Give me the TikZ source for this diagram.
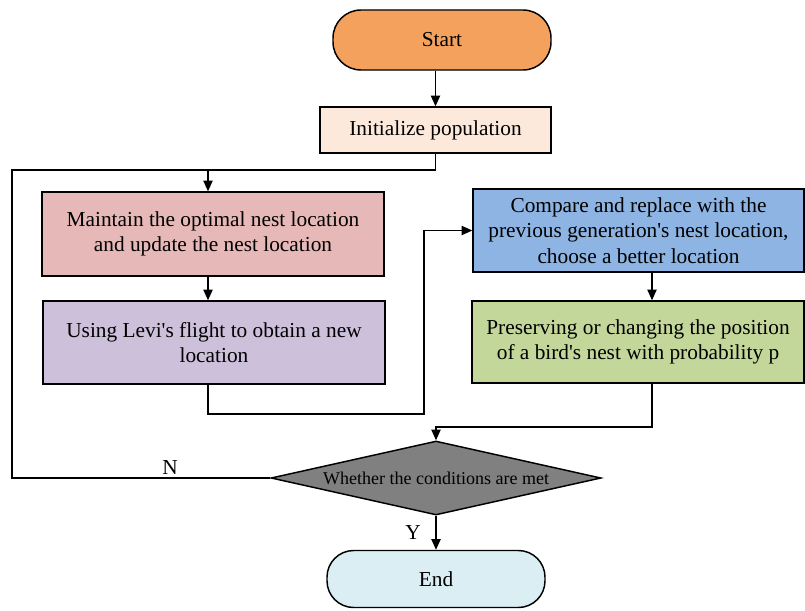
\documentclass[tikz,border=0pt]{standalone}
\usepackage{fontspec}
\setmainfont{Liberation Serif}
\newfontfamily\tnr{Liberation Serif}
\usetikzlibrary{shapes.geometric,arrows.meta}

\definecolor{cStart}{HTML}{F4A15E}
\definecolor{cInit}{HTML}{FCE9DC}
\definecolor{cKeep}{HTML}{E6B8B7}
\definecolor{cLevy}{HTML}{CCC0DA}
\definecolor{cComp}{HTML}{8DB4E2}
\definecolor{cPres}{HTML}{C4D79B}
\definecolor{cDec}{HTML}{808080}
\definecolor{cEnd}{HTML}{DAEEF3}

\newcommand{\aq}{\textquotesingle}

\tikzset{
  box/.style={draw=black, line width=1.1pt, rectangle, align=center,
    font=\tnr\fontsize{16}{19}\selectfont, inner sep=2pt},
  term/.style={box, rounded corners=21pt},
  link/.style={draw=black, line width=0.8pt},
  arr/.style={link, -{Triangle[length=8pt,width=7pt]}},
  lbl/.style={font=\tnr\fontsize{16}{18}\selectfont, inner sep=0pt},
}

\begin{document}
\begin{tikzpicture}[x=0.75pt,y=-0.75pt]
  \useasboundingbox (0,0) rectangle (805,610);

  % process steps
  \node[term, fill=cStart, minimum width=218*0.75pt, minimum height=60*0.75pt] (start) at (442,40) {Start};
  \node[box, fill=cInit, minimum width=231*0.75pt, minimum height=46*0.75pt] (init) at (435.5,130) {Initialize population};
  \node[box, fill=cKeep, minimum width=342*0.75pt, minimum height=84*0.75pt] (keep) at (213,234) {Maintain the optimal nest location\\and update the nest location};
  \node[box, fill=cLevy, minimum width=342*0.75pt, minimum height=83*0.75pt] (levy) at (214,342.5) {Using Levi\aq s flight to obtain a new\\location};
  \node[box, fill=cComp, minimum width=331*0.75pt, minimum height=83*0.75pt] (comp) at (638.5,230.5) {Compare and replace with the\\previous generation\aq s nest location,\\choose a better location};
  \node[box, fill=cPres, minimum width=332*0.75pt, minimum height=82*0.75pt] (pres) at (638,342) {Preserving or changing the position\\of a bird\aq s nest with probability p};
  \node[draw=black, line width=1.1pt, shape=diamond, fill=cDec, inner sep=0pt, aspect=4.4,
        minimum width=330*0.75pt, minimum height=74*0.75pt,
        font=\tnr\fontsize{13.5}{15}\selectfont] (dec) at (436,478) {Whether the conditions are met};
  \node[term, fill=cEnd, rounded corners=20pt, minimum width=218*0.75pt, minimum height=57*0.75pt] (end) at (436,579) {End};

  % routing points
  \coordinate (j1) at (208,170);
  \coordinate (lft) at (12,170);
  \coordinate (k) at (424,414);
  \coordinate (cx) at (652,0);
  \coordinate (k2) at (0,427);

  % connectors
  \draw[arr] (init.north |- start.south) -- (init.north);
  \draw[link] (init.south) |- (j1);
  \draw[arr] (j1) -- (j1 |- keep.north);
  \draw[arr] (keep.south -| j1) -- (levy.north -| j1);
  \draw[arr] (levy.south -| j1) |- (k) |- (comp.west);
  \draw[arr] (comp.south -| cx) -- (pres.north -| cx);
  \draw[arr] (pres.south -| cx) |- (dec.north |- k2) -- (dec.north);
  \draw[link] (dec.west) -| (lft) -- (j1);
  \draw[arr] (dec.south) -- (end.north);

  % branch labels
  \node[lbl] (nlbl) at (170,468) {N};
  \node[lbl] (ylbl) at (413,533) {Y};
\end{tikzpicture}
\end{document}
